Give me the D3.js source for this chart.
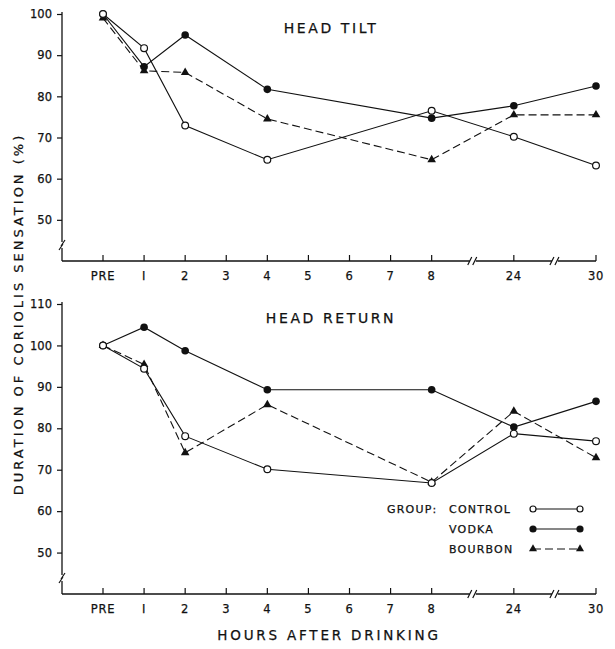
<!DOCTYPE html>
<html>
<head>
<meta charset="utf-8">
<script src="https://cdn.jsdelivr.net/npm/d3@7"></script>
<style>
  body { margin: 0; background: #fff; }
  text { font-family: "DejaVu Sans", sans-serif; fill: #111; stroke: #111; stroke-width: 0.25px; }
</style>
</head>
<body>
<svg id="chart" width="615" height="649"></svg>
<script>
// x categories, "b1"/"b2" are the axis breaks
const categories = ["PRE", "1", "2", "3", "4", "5", "6", "7", "8", "b1", "24", "b2", "30"];
const measured = ["PRE", "1", "2", "4", "8", "24", "30"];

// head tilt
const tiltControl = [100, 91.7, 72.9, 64.6, 76.5, 70.2, 63.2];
const tiltVodka = [100, 87.2, 94.9, 81.7, 74.7, 77.7, 82.5];
const tiltBourbon = [99, 86.2, 85.8, 74.5, 64.6, 75.5, 75.5];

// head return
const returnControl = [100, 94.4, 78.1, 70.1, 66.8, 78.7, 76.9];
const returnVodka = [100, 104.4, 98.7, 89.3, 89.3, 80.3, 86.5];
const returnBourbon = [100, 95.4, 74.1, 85.7, 67, 84.1, 72.9];

const tiltTicks = [50, 60, 70, 80, 90, 100];
const returnTicks = [50, 60, 70, 80, 90, 100, 110];

const groups = ["CONTROL", "VODKA", "BOURBON"];

let svg = d3.select("#chart");

let x = d3.scalePoint()
    .domain(categories)
    .range([103, 596]);

const axisLeft = 62;

function draw_panel(top, bottom, yMax, ticks, control, vodka, bourbon, title)
{
    let y = d3.scaleLinear().domain([40, yMax]).range([bottom, top]);
    let g = svg.append("g");

    // y axis line
    g.append("line")
        .attr("x1", axisLeft).attr("x2", axisLeft)
        .attr("y1", y(yMax) - 2).attr("y2", bottom)
        .attr("stroke", "#111").attr("stroke-width", 1.3);

    let yAxis = d3.axisLeft(y).tickValues(ticks).tickSize(5).tickPadding(5);
    let ya = g.append("g")
        .attr("transform", "translate(" + axisLeft + ",0)")
        .call(yAxis);
    ya.select(".domain").remove();
    ya.selectAll("line").attr("stroke", "#111").attr("stroke-width", 1.2);
    ya.selectAll("text").style("font-size", "11.5px").attr("fill", "#111").style("font-family", "DejaVu Sans");

    // break on y axis
    let by = bottom - 16;
    g.append("rect").attr("x", axisLeft - 2).attr("y", by - 3).attr("width", 4).attr("height", 6).attr("fill", "#fff");
    g.append("path")
        .attr("d", "M" + (axisLeft - 3) + "," + (by + 5) + " L" + (axisLeft + 1) + "," + (by - 1)
            + " M" + (axisLeft - 1) + "," + (by + 1) + " L" + (axisLeft + 3) + "," + (by - 5))
        .attr("stroke", "#111").attr("stroke-width", 1.2).attr("fill", "none");

    // x axis line
    g.append("line")
        .attr("x1", axisLeft).attr("x2", x("30"))
        .attr("y1", bottom).attr("y2", bottom)
        .attr("stroke", "#111").attr("stroke-width", 1.5);

    let tickCats = categories.filter(function (c) { return c[0] !== "b"; });
    g.selectAll(".xtick")
        .data(tickCats)
        .enter().append("line")
        .attr("x1", function (d) { return x(d); })
        .attr("x2", function (d) { return x(d); })
        .attr("y1", bottom).attr("y2", bottom - 6)
        .attr("stroke", "#111").attr("stroke-width", 1.2);

    g.selectAll(".xlab")
        .data(tickCats)
        .enter().append("text")
        .attr("x", function (d) { return x(d); })
        .attr("y", bottom + 19)
        .attr("text-anchor", "middle")
        .style("font-size", "11.5px")
        .style("letter-spacing", "0.8px")
        .text(function (d) { return d === "1" ? "I" : d; });

    // breaks on x axis
    ["b1", "b2"].forEach(function (b) {
        let bx = x(b);
        g.append("rect").attr("x", bx - 3).attr("y", bottom - 2).attr("width", 6).attr("height", 4).attr("fill", "#fff");
        g.append("path")
            .attr("d", "M" + (bx - 5) + "," + (bottom + 4) + " L" + (bx - 1) + "," + (bottom - 4)
                + " M" + (bx) + "," + (bottom + 4) + " L" + (bx + 4) + "," + (bottom - 4))
            .attr("stroke", "#111").attr("stroke-width", 1.2);
    });

    g.append("text")
        .attr("x", 331).attr("y", top + 19)
        .attr("text-anchor", "middle")
        .style("font-size", "14px")
        .style("letter-spacing", "2.6px")
        .text(title);

    let line = d3.line()
        .x(function (d, i) { return x(measured[i]); })
        .y(function (d) { return y(d); });

    g.append("path").datum(bourbon).attr("d", line)
        .attr("fill", "none").attr("stroke", "#111").attr("stroke-width", 1.1)
        .attr("stroke-dasharray", "8,4");
    g.append("path").datum(control).attr("d", line)
        .attr("fill", "none").attr("stroke", "#111").attr("stroke-width", 1.1);
    g.append("path").datum(vodka).attr("d", line)
        .attr("fill", "none").attr("stroke", "#111").attr("stroke-width", 1.1);

    let tri = d3.symbol().type(d3.symbolTriangle).size(32);
    g.selectAll(".tri").data(bourbon).enter().append("path")
        .attr("d", tri)
        .attr("transform", function (d, i) { return "translate(" + x(measured[i]) + "," + y(d) + ")"; })
        .attr("fill", "#111");

    g.selectAll(".vod").data(vodka).enter().append("circle")
        .attr("cx", function (d, i) { return x(measured[i]); })
        .attr("cy", function (d) { return y(d); })
        .attr("r", 3.8).attr("fill", "#111");

    g.selectAll(".ctl").data(control).enter().append("circle")
        .attr("cx", function (d, i) { return x(measured[i]); })
        .attr("cy", function (d) { return y(d); })
        .attr("r", 3.4).attr("fill", "#fff").attr("stroke", "#111").attr("stroke-width", 1.2);
}

draw_panel(14, 261, 100, tiltTicks, tiltControl, tiltVodka, tiltBourbon, "HEAD TILT");
draw_panel(304, 594, 110, returnTicks, returnControl, returnVodka, returnBourbon, "HEAD RETURN");

// legend
let legend = svg.append("g");
legend.append("text")
    .attr("x", 387).attr("y", 513)
    .style("font-size", "11px").style("letter-spacing", "1.2px")
    .text("GROUP:");
groups.forEach(function (name, i) {
    let ly = 509 + i * 20;
    legend.append("text")
        .attr("x", 449).attr("y", ly + 4)
        .style("font-size", "11px").style("letter-spacing", "1.2px")
        .text(name);
    let seg = legend.append("line")
        .attr("x1", 533).attr("x2", 580).attr("y1", ly).attr("y2", ly)
        .attr("stroke", "#111").attr("stroke-width", 1.1);
    if (name === "BOURBON") seg.attr("stroke-dasharray", "8,4");
    [533, 580].forEach(function (lx) {
        if (name === "CONTROL") {
            legend.append("circle").attr("cx", lx).attr("cy", ly).attr("r", 3)
                .attr("fill", "#fff").attr("stroke", "#111").attr("stroke-width", 1.2);
        } else if (name === "VODKA") {
            legend.append("circle").attr("cx", lx).attr("cy", ly).attr("r", 3.6).attr("fill", "#111");
        } else {
            legend.append("path").attr("d", d3.symbol().type(d3.symbolTriangle).size(28))
                .attr("transform", "translate(" + lx + "," + ly + ")").attr("fill", "#111");
        }
    });
});

// axis titles
svg.append("text")
    .attr("x", 329).attr("y", 640)
    .attr("text-anchor", "middle")
    .style("font-size", "13.5px").style("letter-spacing", "2.8px")
    .text("HOURS AFTER DRINKING");

svg.append("text")
    .attr("transform", "translate(23,314) rotate(-90)")
    .attr("text-anchor", "middle")
    .style("font-size", "13px").style("letter-spacing", "3px")
    .text("DURATION OF CORIOLIS SENSATION (%)");
</script>
</body>
</html>
